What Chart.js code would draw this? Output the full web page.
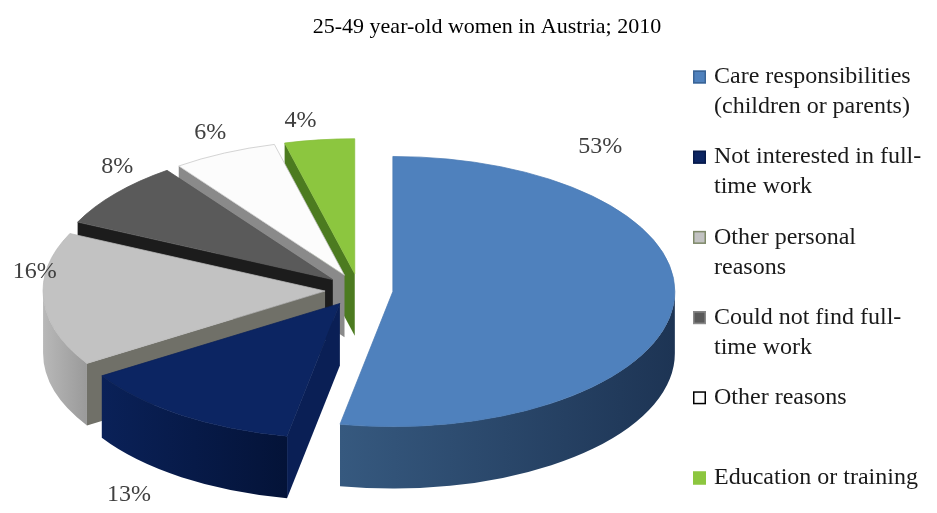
<!DOCTYPE html>
<html>
<head>
<meta charset="utf-8">
<title>Reasons for part-time work</title>
<script src="https://cdn.jsdelivr.net/npm/chart.js@4.4.1/dist/chart.umd.min.js"></script>
<style>
  html, body { margin: 0; padding: 0; background: #fff; }
  #wrap { position: relative; width: 937px; height: 513px; }
</style>
</head>
<body>
<div id="wrap"><canvas id="chart" width="937" height="513"></canvas></div>
<script>
const chartTitle = '25-49 year-old women in Austria; 2010';

// legend text, one entry per slice (already split into lines)
const categories = [
  ['Care responsibilities', '(children or parents)'],
  ['Not interested in full-', 'time work'],
  ['Other personal', 'reasons'],
  ['Could not find full-', 'time work'],
  ['Other reasons'],
  ['Education or training']
];
const shares = [53, 13, 16, 8, 6, 4];

// colours: top face, its outline, outer wall (light -> dark), cut face, legend box border
const topColors = ['#4f81bd', '#0c2562', '#c2c2c2', '#5a5a5a', '#fcfcfc', '#8cc63f'];
const edgeColors = ['#4a7ab3', '#0a2159', '#b8b8b8', '#555555', '#c4c4c4', '#86bd3c'];
const wallColors = [['#36597f', '#1d3454'], ['#0a2158', '#041338'], ['#b8b8b8', '#9a9a9a'],
                    ['#444444', '#333333'], ['#dddddd', '#bbbbbb'], ['#6fa232', '#4e7a22']];
const cutColors = ['#2a4466', '#0a1f55', '#707068', '#1c1c1c', '#8a8a8a', '#4c7b20'];
const boxBorders = ['#3a6496', '#061a4a', '#7f8a6a', '#8a8a8a', '#000000', '#8cc63f'];

const TILT = 0.479;    // vertical squash of the disc
const DEPTH = 62;      // wall height
const EXPLODE = 34;    // distance every slice is pulled out
const FONT = "'Liberation Serif', 'Times New Roman', serif";

function drawCut(ctx, ox, oy, R, a, color) {
  const x1 = ox + R * Math.cos(a);
  const y1 = oy + R * TILT * Math.sin(a);
  ctx.beginPath();
  ctx.moveTo(ox, oy);
  ctx.lineTo(x1, y1);
  ctx.lineTo(x1, y1 + DEPTH);
  ctx.lineTo(ox, oy + DEPTH);
  ctx.closePath();
  ctx.fillStyle = color;
  ctx.fill();
}

function sliceOrigin(arc) {
  const m = (arc.startAngle + arc.endAngle) / 2;
  return [arc.x + EXPLODE * Math.cos(m), arc.y + TILT * EXPLODE * Math.sin(m)];
}

// draws the pie as a tilted, exploded 3d disc, back slices first
const pie3d = {
  id: 'pie3d',
  beforeDatasetDraw(chart, args) {
    const ctx = chart.ctx;
    const arcs = args.meta.data;
    const mid = arc => (arc.startAngle + arc.endAngle) / 2;
    const order = arcs.map((a, i) => i).sort((p, q) => Math.sin(mid(arcs[p])) - Math.sin(mid(arcs[q])));

    order.forEach(i => {
      const arc = arcs[i];
      const [ox, oy] = sliceOrigin(arc);
      const R = arc.outerRadius;
      const s = arc.startAngle, e = arc.endAngle;

      if (Math.cos(s) < -0.01) drawCut(ctx, ox, oy, R, s, cutColors[i]);
      if (Math.cos(e) > 0.01) drawCut(ctx, ox, oy, R, e, cutColors[i]);

      // outer wall, only the front half shows
      const a0 = Math.max(s, 0), a1 = Math.min(e, Math.PI);
      if (a1 > a0) {
        const xa = ox + R * Math.cos(a0), xb = ox + R * Math.cos(a1);
        const grad = ctx.createLinearGradient(Math.min(xa, xb), 0, Math.max(xa, xb), 0);
        grad.addColorStop(0, wallColors[i][0]);
        grad.addColorStop(1, wallColors[i][1]);
        ctx.beginPath();
        ctx.ellipse(ox, oy, R, R * TILT, 0, a0, a1, false);
        ctx.lineTo(xb, oy + R * TILT * Math.sin(a1) + DEPTH);
        ctx.ellipse(ox, oy + DEPTH, R, R * TILT, 0, a1, a0, true);
        ctx.closePath();
        ctx.fillStyle = grad;
        ctx.fill();
      }

      // top face: the arc element draws itself in the squashed space
      ctx.save();
      ctx.translate(ox, oy);
      ctx.scale(1, TILT);
      ctx.translate(-arc.x, -arc.y);
      arc.draw(ctx);
      ctx.restore();
    });
    return false;
  },
  afterDraw(chart, args, opts) {
    const ctx = chart.ctx;
    const arcs = chart.getDatasetMeta(0).data;

    ctx.save();
    ctx.textAlign = 'center';
    ctx.textBaseline = 'middle';
    ctx.fillStyle = '#000';
    ctx.font = '22px ' + FONT;
    ctx.fillText(chartTitle, opts.titleX, opts.titleY);

    // percentage labels
    ctx.fillStyle = '#404040';
    ctx.font = '24px ' + FONT;
    arcs.forEach((arc, i) => {
      const [frac, gap] = opts.place[i];
      const [ox, oy] = sliceOrigin(arc);
      const a = arc.startAngle + (arc.endAngle - arc.startAngle) * frac;
      const r = arc.outerRadius + gap;
      let y = oy + TILT * r * Math.sin(a);
      if (Math.sin(a) > 0.5) y += DEPTH;
      ctx.fillText(shares[i] + '%', ox + r * Math.cos(a), y);
    });

    // legend
    ctx.textAlign = 'left';
    ctx.font = '24px ' + FONT;
    categories.forEach((lines, i) => {
      const y = opts.legendTop + i * opts.legendStep;
      ctx.fillStyle = topColors[i];
      ctx.fillRect(opts.legendX, y - 6.5, 13, 13);
      ctx.strokeStyle = boxBorders[i];
      ctx.lineWidth = 1.5;
      ctx.strokeRect(opts.legendX + 0.75, y - 5.75, 11.5, 11.5);
      ctx.fillStyle = '#1a1a1a';
      lines.forEach((line, j) => ctx.fillText(line, opts.legendX + 21, y + j * opts.lineStep));
    });
    ctx.restore();
  }
};

new Chart(document.getElementById('chart'), {
  type: 'pie',
  data: {
    labels: categories.map(l => l.join(' ')),
    datasets: [{
      data: shares,
      backgroundColor: topColors,
      borderColor: edgeColors,
      borderWidth: 1,
      radius: 282,
      clip: false
    }]
  },
  options: {
    responsive: false,
    animation: false,
    events: [],
    layout: { padding: { left: 0, right: 219, top: 67, bottom: 0 } },
    plugins: {
      legend: { display: false },
      title: { display: false },
      tooltip: { enabled: false },
      pie3d: {
        titleX: 487, titleY: 27,
        legendX: 693, legendTop: 77, legendStep: 80.2, lineStep: 30,
        place: [[0.181, 84], [0.58, 61], [0.70, 11], [0.78, 38], [0.54, 44], [0.33, 42]]
      }
    }
  },
  plugins: [pie3d]
});
</script>
</body>
</html>
